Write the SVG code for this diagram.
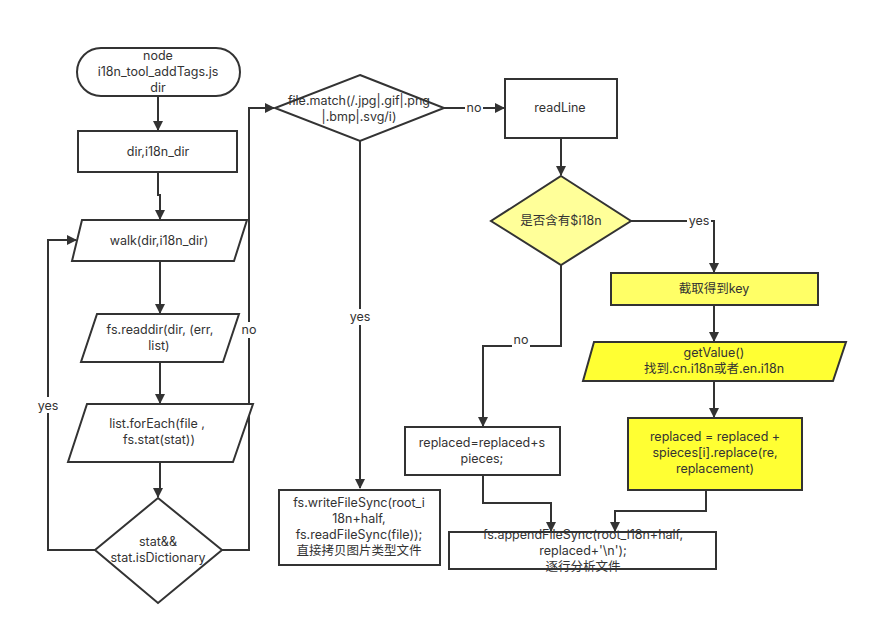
<svg xmlns="http://www.w3.org/2000/svg" width="878" height="635" viewBox="0 0 878 635">
<defs>
<marker id="arr" markerWidth="10" markerHeight="10" refX="9" refY="5" orient="auto" markerUnits="userSpaceOnUse">
<path d="M0,0 L10,5 L0,10 z" fill="#333"/>
</marker>
<style>
.s{stroke:#333;stroke-width:2;fill:#fff}
.y1{fill:#ffff99}
.y2{fill:#ffff66}
.y3{fill:#ffff33}
.c{fill:none;stroke:#333;stroke-width:2}
text{font-family:Inter,"Noto Sans CJK SC",sans-serif;font-size:12.5px;fill:#333;text-anchor:middle}
.lb{fill:#fff;stroke:none}
</style>
</defs>
<rect width="878" height="635" fill="#fff"/>
<g id="connectors">
<path class="c" d="M158,96 V130" marker-end="url(#arr)"/>
<path class="c" d="M158,172 V195 H160 V219" marker-end="url(#arr)"/>
<path class="c" d="M160,261 V313" marker-end="url(#arr)"/>
<path class="c" d="M160,362 V403" marker-end="url(#arr)"/>
<path class="c" d="M160,462 V490 H158 V497" marker-end="url(#arr)"/>
<path class="c" d="M95,550 H48 V240 H76" marker-end="url(#arr)"/>
<rect class="lb" x="36" y="397" width="24" height="16"/>
<text x="48" y="410">yes</text>
<path class="c" d="M222,550 H249 V108 H274" marker-end="url(#arr)"/>
<rect class="lb" x="239" y="322" width="20" height="16"/>
<text x="249" y="334">no</text>
<path class="c" d="M360,141 V488" marker-end="url(#arr)"/>
<rect class="lb" x="347" y="309" width="26" height="16"/>
<text x="360" y="321">yes</text>
<path class="c" d="M444,108 H504" marker-end="url(#arr)"/>
<rect class="lb" x="465" y="100" width="18" height="16"/>
<text x="474" y="112">no</text>
<path class="c" d="M561,138 V175" marker-end="url(#arr)"/>
<path class="c" d="M631,221 H714 V272" marker-end="url(#arr)"/>
<rect class="lb" x="687" y="213" width="24" height="16"/>
<text x="699" y="225">yes</text>
<path class="c" d="M561,265 V346 H483 V426" marker-end="url(#arr)"/>
<rect class="lb" x="512" y="332" width="18" height="16"/>
<text x="521" y="344">no</text>
<path class="c" d="M714,305 V341" marker-end="url(#arr)"/>
<path class="c" d="M714,381 V417" marker-end="url(#arr)"/>
<path class="c" d="M483,475 V503 H551 V531" marker-end="url(#arr)"/>
<path class="c" d="M706,490 V511 H615 V531" marker-end="url(#arr)"/>
</g>
<g id="start">
<rect class="s" x="77" y="48" width="163" height="48" rx="24"/>
<text x="158" y="60">node</text>
<text x="158" y="76">i18n_tool_addTags.js</text>
<text x="158" y="92">dir</text>
</g>
<g id="dirbox">
<rect class="s" x="78" y="131" width="159" height="41"/>
<text x="158" y="156">dir,i18n_dir</text>
</g>
<g id="walk">
<polygon class="s" points="82,220 247,220 234,261 72,261"/>
<text x="159" y="245">walk(dir,i18n_dir)</text>
</g>
<g id="readdir">
<polygon class="s" points="97,314 239,314 223,362 81,362"/>
<text x="160" y="334">fs.readdir(dir, (err,</text>
<text x="159" y="350">list)</text>
</g>
<g id="foreach">
<polygon class="s" points="87,404 253,404 233,462 68,462"/>
<text x="157" y="428">list.forEach(file ,</text>
<text x="159" y="444">fs.stat(stat))</text>
</g>
<g id="statdiamond">
<polygon class="s" points="158,498 222,550 158,603 95,550"/>
<text x="158" y="546">stat&amp;&amp;</text>
<text x="158" y="562">stat.isDictionary</text>
</g>
<g id="filematch">
<polygon class="s" points="360,75 444,108 360,141 275,108"/>
<text x="359" y="105">file.match(/.jpg|.gif|.png</text>
<text x="359" y="121">|.bmp|.svg/i)</text>
</g>
<g id="writefile">
<rect class="s" x="279" y="490" width="161" height="75"/>
<text x="359" y="507">fs.writeFileSync(root_i</text>
<text x="359" y="523">18n+half,</text>
<text x="359" y="539">fs.readFileSync(file));</text>
<text x="359" y="555">直接拷贝图片类型文件</text>
</g>
<g id="readline">
<rect class="s" x="505" y="79" width="112" height="59"/>
<text x="560" y="112">readLine</text>
</g>
<g id="hasi18n">
<polygon class="s y1" points="561,176 631,221 561,265 491,221"/>
<text x="561" y="225">是否含有$i18n</text>
</g>
<g id="getkey">
<rect class="s y2" x="611" y="273" width="207" height="32"/>
<text x="714" y="293">截取得到key</text>
</g>
<g id="getvalue">
<polygon class="s y3" points="594,342 846,342 833,381 583,381"/>
<text x="714" y="357">getValue()</text>
<text x="714" y="373">找到.cn.i18n或者.en.i18n</text>
</g>
<g id="replacedplain">
<rect class="s" x="405" y="427" width="155" height="48"/>
<text x="482" y="447">replaced=replaced+s</text>
<text x="482" y="463">pieces;</text>
</g>
<g id="replacedyellow">
<rect class="s y3" x="628" y="418" width="174" height="72"/>
<text x="715" y="441">replaced = replaced +</text>
<text x="715" y="457">spieces[i].replace(re,</text>
<text x="715" y="473">replacement)</text>
</g>
<g id="append">
<rect class="s" x="449" y="532" width="267" height="37"/>
<text x="583" y="539">fs.appendFileSync(root_i18n+half,</text>
<text x="583" y="555">replaced+'\n');</text>
<text x="583" y="571">逐行分析文件</text>
</g>
</svg>
